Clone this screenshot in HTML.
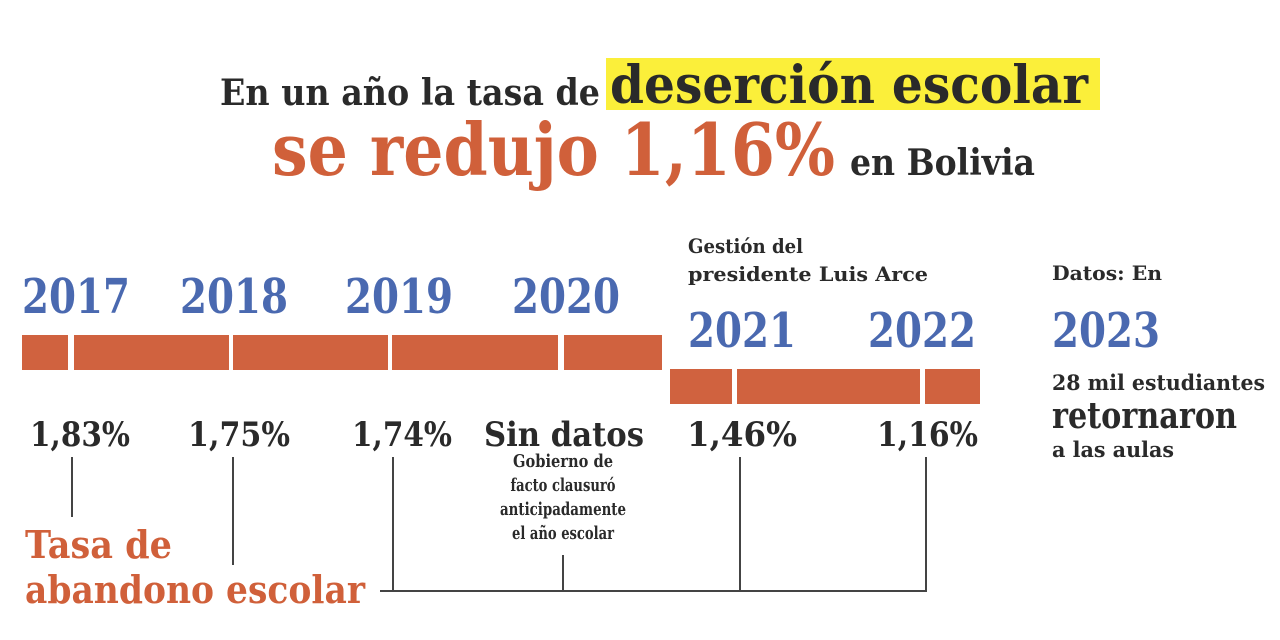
<!DOCTYPE html>
<html><head><meta charset="utf-8"><style>
html,body{margin:0;padding:0;background:#fff;}
svg{display:block;}
text{font-family:"DejaVu Serif","Liberation Serif",serif;font-weight:bold;}
</style></head><body>
<svg id="chart" width="1280" height="640" viewBox="0 0 1280 640" xmlns="http://www.w3.org/2000/svg">
<rect x="0" y="0" width="1280" height="640" fill="#fff"/>
<g>
<text x="220" y="105" font-size="36" fill="#2a2a2a" textLength="380" lengthAdjust="spacingAndGlyphs">En un año la tasa de</text>
<rect x="606" y="58" width="494" height="52" fill="#fbef3a"/>
<text x="610" y="103" font-size="52" fill="#2a2a2a" textLength="478" lengthAdjust="spacingAndGlyphs">deserción escolar</text>
<text x="272" y="175" font-size="72" fill="#d0603a" textLength="563" lengthAdjust="spacingAndGlyphs">se redujo 1,16%</text>
<text x="850" y="175" font-size="36" fill="#2a2a2a" textLength="185" lengthAdjust="spacingAndGlyphs">en Bolivia</text>
</g>
<text x="688" y="253" font-size="20" fill="#2a2a2a" textLength="115" lengthAdjust="spacingAndGlyphs">Gestión del</text>
<text x="688" y="281" font-size="20" fill="#2a2a2a" textLength="240" lengthAdjust="spacingAndGlyphs">presidente Luis Arce</text>
<text x="1052" y="280" font-size="20" fill="#2a2a2a" textLength="110" lengthAdjust="spacingAndGlyphs">Datos: En</text>
<text x="1052" y="347" font-size="48" fill="#4a69b0" textLength="108" lengthAdjust="spacingAndGlyphs">2023</text>
<text x="1052" y="390" font-size="21" fill="#2a2a2a" textLength="213" lengthAdjust="spacingAndGlyphs">28 mil estudiantes</text>
<text x="1052" y="428" font-size="36" fill="#2a2a2a" textLength="185" lengthAdjust="spacingAndGlyphs">retornaron</text>
<text x="1052" y="457" font-size="21" fill="#2a2a2a" textLength="122" lengthAdjust="spacingAndGlyphs">a las aulas</text>
<g font-size="18" fill="#2a2a2a" text-anchor="middle">
<text x="563" y="467" textLength="100" lengthAdjust="spacingAndGlyphs">Gobierno de</text>
<text x="563" y="491" textLength="105" lengthAdjust="spacingAndGlyphs">facto clausuró</text>
<text x="563" y="515" textLength="126" lengthAdjust="spacingAndGlyphs">anticipadamente</text>
<text x="563" y="539" textLength="102" lengthAdjust="spacingAndGlyphs">el año escolar</text>
</g>
<text x="25" y="558" font-size="38" fill="#d0603a" textLength="147" lengthAdjust="spacingAndGlyphs">Tasa de</text>
<text x="25" y="603" font-size="38" fill="#d0603a" textLength="340" lengthAdjust="spacingAndGlyphs">abandono escolar</text>
<g id="marks"></g>
</svg>
<script>
const years = ["2017","2018","2019","2020","2021","2022"];
const rates = ["1,83%","1,75%","1,74%","Sin datos","1,46%","1,16%"];
const govPhase = [0,0,0,0,1,1];
const yearX = [22,180,345,512,688,868];
const rateX = [30,188,352,484,687,877];
const rateW = [100,102,100,160,110,101];
const ns = "http://www.w3.org/2000/svg";
const g = document.getElementById("marks");
function mk(tag, attrs){const e=document.createElementNS(ns,tag);for(const k in attrs)e.setAttribute(k,attrs[k]);g.appendChild(e);return e;}
years.forEach((y,i)=>{
  const t = mk("text",{x:yearX[i],y:govPhase[i]?347:313,"font-size":48,fill:"#4a69b0",textLength:108,lengthAdjust:"spacingAndGlyphs"});
  t.textContent=y;
  
  
  const v = mk("text",{x:rateX[i],y:446,"font-size":34,fill:"#2a2a2a",textLength:rateW[i],lengthAdjust:"spacingAndGlyphs"});
  v.textContent=rates[i];
  
  
});
const seg1 = [[22,68],[74,229],[233,388],[392,558],[564,662]];
const seg2 = [[670,732],[737,920],[925,980]];
seg1.forEach(s=>{const r=mk("rect",{x:s[0],y:335,width:s[1]-s[0],height:35,fill:"#d0623f"});
  
  });
seg2.forEach(s=>{const r=mk("rect",{x:s[0],y:369,width:s[1]-s[0],height:35,fill:"#d0623f"});
  
  });
const lines = [[72,457,72,517],[233,457,233,565],[393,457,393,591],[563,555,563,591],[740,457,740,591],[926,457,926,591],[380,591,927,591]];
lines.forEach(l=>{const e=mk("line",{x1:l[0],y1:l[1],x2:l[2],y2:l[3],stroke:"#444","stroke-width":2});
  
  });
</script>
</body></html>
